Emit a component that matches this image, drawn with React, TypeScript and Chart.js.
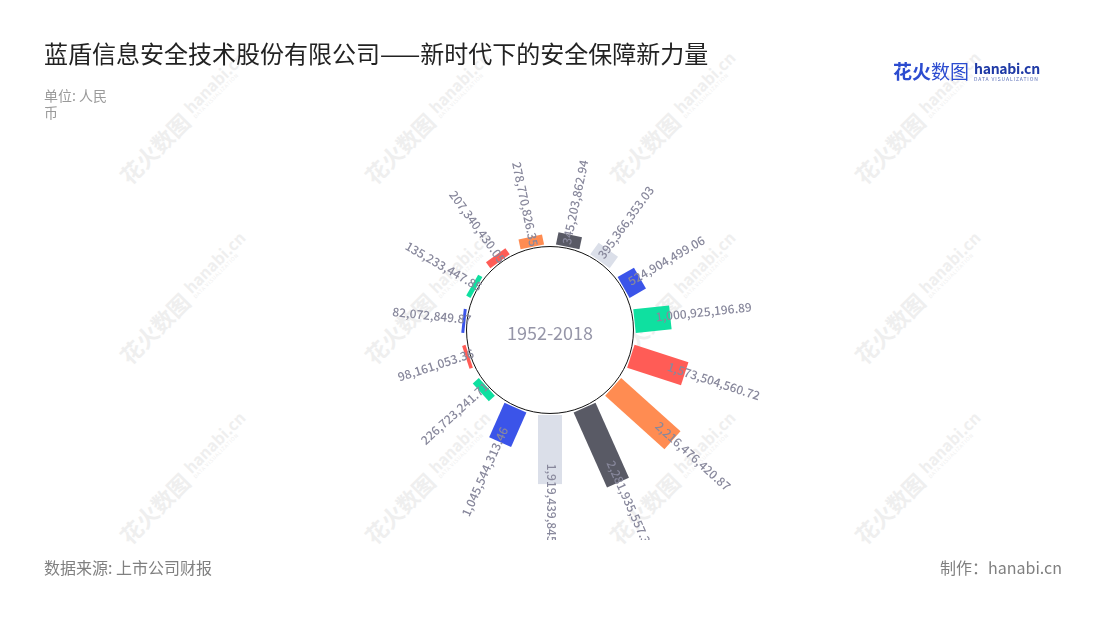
import React, { useEffect, useRef } from 'react';
import { Chart, registerables } from 'chart.js';

Chart.register(...registerables);

const FONT = "'Noto Sans CJK SC', 'Noto Sans', sans-serif";

// Data, in angular order clockwise from the top
const categories = [
  'k01', 'k02', 'k03', 'k04', 'k05', 'k06', 'k07', 'k08',
  'k09', 'k10', 'k11', 'k12', 'k13', 'k14', 'k15',
];
const values = [
  345203862.94, 395366353.03, 524904499.06, 1000925196.89, 1573504560.72,
  2216476420.87, 2281935557.32, 1919439845.52, 1045544313.46, 226723241.71,
  98161053.36, 82072849.87, 135233447.85, 207340430.05, 278770826.35,
];
const barColors = [
  '#595a65', '#dbdfe9', '#3b54e9', '#0fe0a0', '#ff5c56', '#ff8c52',
  '#595a65', '#dbdfe9', '#3b54e9', '#0fe0a0', '#ff5c56',
  '#3b54e9', '#0fe0a0', '#ff5c56', '#ff8c52',
];
const centerText = '1952-2018';
const titleText = '蓝盾信息安全技术股份有限公司——新时代下的安全保障新力量';
const unitText = '单位: 人民币';
const sourceText = '数据来源: 上市公司财报';
const makerText = '制作：hanabi.cn';

const R_MIN = -2.36e9;
const R_MAX = 2.5e9;
const BAR_W = 24;

const fmt = (v: number) =>
  v.toLocaleString('en-US', { minimumFractionDigits: 2, maximumFractionDigits: 2 });

const radialBars = {
  id: 'radialBars',
  afterDatasetsDraw(chart: any) {
    const scale = chart.scales.r;
    const ctx: CanvasRenderingContext2D = chart.ctx;
    const cx = scale.xCenter;
    const cy = scale.yCenter;
    const r0 = scale.getDistanceFromCenterForValue(0);
    const data: number[] = chart.data.datasets[0].data;
    ctx.save();
    // bars
    data.forEach((v, i) => {
      const a = scale.getIndexAngle(i) - Math.PI / 2;
      const r1 = scale.getDistanceFromCenterForValue(v);
      ctx.save();
      ctx.translate(cx, cy);
      ctx.rotate(a);
      ctx.fillStyle = barColors[i];
      ctx.fillRect(r0, -BAR_W / 2, r1 - r0, BAR_W);
      ctx.restore();
    });
    // inner circle
    ctx.beginPath();
    ctx.arc(cx, cy, r0 - 1.5, 0, Math.PI * 2);
    ctx.fillStyle = '#ffffff';
    ctx.fill();
    ctx.lineWidth = 1;
    ctx.strokeStyle = '#111111';
    ctx.stroke();
    ctx.fillStyle = '#9696a8';
    ctx.font = `18px ${FONT}`;
    ctx.textAlign = 'center';
    ctx.textBaseline = 'middle';
    ctx.fillText(centerText, cx, cy + 3.5);
    // value labels
    ctx.beginPath();
    ctx.rect(0, 0, chart.width, 540);
    ctx.clip();
    ctx.font = `500 12px ${FONT}`;
    ctx.fillStyle = '#88889c';
    ctx.textBaseline = 'middle';
    data.forEach((v, i) => {
      const ang = scale.getIndexAngle(i);
      const a = ang - Math.PI / 2;
      const anchor = scale.getDistanceFromCenterForValue(v * 0.82) - 8;
      ctx.save();
      ctx.translate(cx, cy);
      if (ang <= Math.PI + 1e-6) {
        ctx.rotate(a);
        ctx.textAlign = 'left';
        ctx.fillText(fmt(v), anchor, -2);
      } else {
        ctx.rotate(a + Math.PI);
        ctx.textAlign = 'right';
        ctx.fillText(fmt(v), -anchor, -2);
      }
      ctx.restore();
    });
    ctx.restore();
  },
};

const wmCols = [132, 377, 622, 867];
const wmRows = [188, 368, 548];

function Watermark({ x, y }: { x: number; y: number }) {
  return (
    <div
      style={{
        position: 'absolute',
        left: x,
        top: y - 26,
        height: 26,
        transformOrigin: '0 100%',
        transform: 'rotate(-45deg)',
        whiteSpace: 'nowrap',
        color: '#efefef',
        display: 'flex',
        alignItems: 'flex-end',
        fontFamily: FONT,
      }}
    >
      <span style={{ fontSize: 22, fontWeight: 700, lineHeight: '26px' }}>花火数图</span>
      <span style={{ marginLeft: 6, display: 'inline-flex', flexDirection: 'column', paddingBottom: 3 }}>
        <span style={{ fontSize: 16, fontWeight: 700, lineHeight: '16px' }}>hanabi.cn</span>
        <span style={{ fontSize: 5, lineHeight: '6px', letterSpacing: 0.7 }}>DATA VISUALIZATION</span>
      </span>
    </div>
  );
}

export default function App() {
  const ref = useRef<HTMLCanvasElement>(null);

  useEffect(() => {
    if (!ref.current) return;
    const chart = new Chart(ref.current, {
      type: 'radar',
      data: {
        labels: categories,
        datasets: [
          {
            data: values,
            pointRadius: 0,
            pointHoverRadius: 0,
            borderWidth: 0,
            showLine: false,
            fill: false,
            backgroundColor: 'rgba(0,0,0,0)',
            borderColor: 'rgba(0,0,0,0)',
          },
        ],
      },
      options: {
        animation: false,
        responsive: true,
        maintainAspectRatio: false,
        events: [],
        layout: { padding: { left: 375, right: 375, top: 155, bottom: 115 } },
        plugins: { legend: { display: false }, tooltip: { enabled: false } },
        scales: {
          r: {
            min: R_MIN,
            max: R_MAX,
            startAngle: 12,
            grid: { display: false },
            angleLines: { display: false },
            ticks: { display: false },
            pointLabels: { display: false },
          },
        },
      },
      plugins: [radialBars],
    } as any);
    return () => chart.destroy();
  }, []);

  return (
    <div
      style={{
        position: 'absolute',
        left: 0,
        top: 0,
        width: 1100,
        height: 620,
        overflow: 'hidden',
        background: '#ffffff',
        fontFamily: FONT,
      }}
    >
      {wmRows.map((y) => wmCols.map((x) => <Watermark key={`${x}-${y}`} x={x} y={y} />))}
      <div style={{ position: 'absolute', left: 0, top: 0, width: 1100, height: 620 }}>
        <canvas ref={ref} />
      </div>
      <div
        style={{
          position: 'absolute',
          left: 44,
          top: 41,
          fontSize: 24,
          lineHeight: '24px',
          color: '#222222',
          whiteSpace: 'nowrap',
        }}
      >
        {titleText}
      </div>
      <div
        style={{
          position: 'absolute',
          left: 44,
          top: 87,
          width: 70,
          fontSize: 14,
          lineHeight: '17px',
          color: '#9a9a9a',
        }}
      >
        {unitText}
      </div>
      <div
        style={{
          position: 'absolute',
          left: 893,
          top: 60,
          display: 'flex',
          alignItems: 'flex-start',
          whiteSpace: 'nowrap',
        }}
      >
        <span style={{ fontSize: 19, lineHeight: '21px', color: '#2c4cd0' }}>
          <span style={{ fontWeight: 700 }}>花火</span>
          <span>数图</span>
        </span>
        <span style={{ marginLeft: 5, display: 'inline-flex', flexDirection: 'column', paddingTop: 1 }}>
          <span style={{ fontSize: 14, fontWeight: 700, lineHeight: '15px', color: '#1f3aa6', letterSpacing: -0.3 }}>
            hanabi.cn
          </span>
          <span style={{ fontSize: 5, lineHeight: '6px', color: '#5b6fb8', letterSpacing: 0.9 }}>DATA VISUALIZATION</span>
        </span>
      </div>
      <div
        style={{
          position: 'absolute',
          left: 44,
          top: 559,
          fontSize: 16,
          lineHeight: '16px',
          color: '#808080',
          whiteSpace: 'nowrap',
        }}
      >
        {sourceText}
      </div>
      <div
        style={{
          position: 'absolute',
          right: 38,
          top: 559,
          fontSize: 16,
          lineHeight: '16px',
          color: '#808080',
          whiteSpace: 'nowrap',
        }}
      >
        {makerText}
      </div>
    </div>
  );
}
